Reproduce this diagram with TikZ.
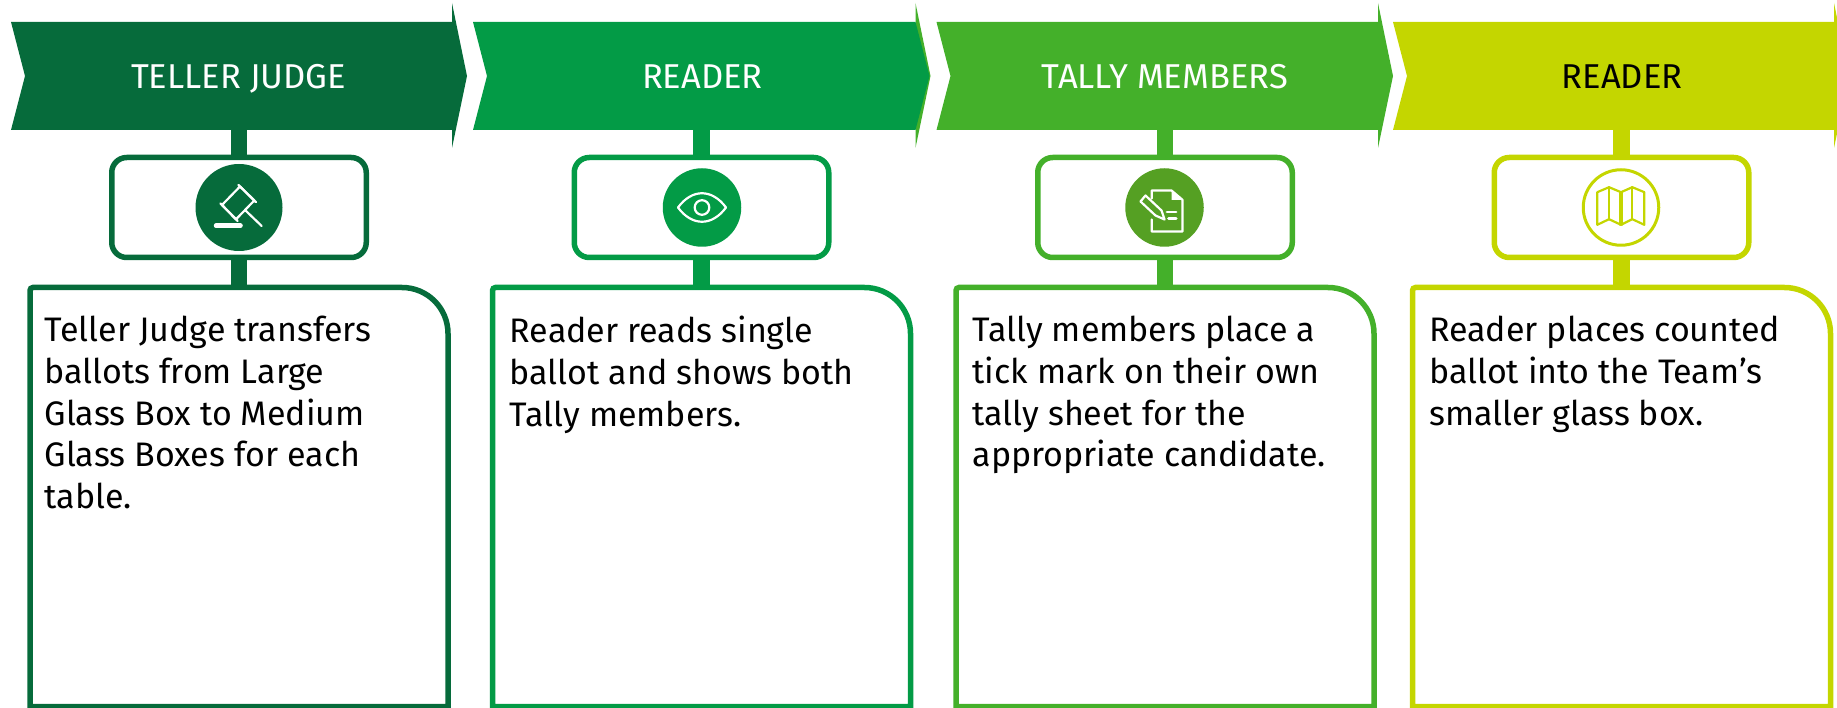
\documentclass[tikz,border=0pt]{standalone}
\usepackage{fontspec}
\setmainfont{Fira Sans}
\usetikzlibrary{calc}
\definecolor{tellergreen}{RGB}{6,107,59}
\definecolor{readergreen}{RGB}{3,155,70}
\definecolor{tallygreen}{RGB}{68,176,42}
\definecolor{tallydisc}{RGB}{85,160,35}
\definecolor{limegreen}{RGB}{196,214,0}
\tikzset{
  headtext/.style={font=\fontsize{34.5}{36}\selectfont, inner sep=0pt, anchor=base},
  stem/.style={line width=16.5pt},
  iconbox/.style={draw, line width=5.5pt, rounded corners=15pt, minimum width=254.5pt, minimum height=100pt, inner sep=0pt, outer sep=0pt},
  framebox/.style={minimum width=418pt, minimum height=419.2pt, inner sep=0pt, outer sep=0pt},
  frameline/.style={line width=5.5pt},
  bodytext/.style={font=\fontsize{34}{41.7}\selectfont, align=left, anchor=north west, inner sep=0pt},
  disc/.style={circle, minimum size=78.5pt, inner sep=0pt, outer sep=0pt},
  glyph/.style={draw=white, line width=2.2pt, line join=round, line cap=round}
}
% banner with its notch on the left and its wings on the right
\newcommand{\banner}[3]{%
  \fill[#3] (#1,22) -- (#1+14,76) -- (#1,130) -- (#2,130) -- (#2,148) -- (#2+15,76) -- (#2,3) -- (#2,22) -- cycle;
}
% outline of a text box: only the top right corner is really round
\newcommand{\bodyframe}[2]{%
  \draw[frameline,#2] (#1.south west) [rounded corners=3pt] -- (#1.north west) [rounded corners=46pt] -- (#1.north east) [sharp corners] -- (#1.south east) -- cycle;
}
\newcommand{\gavelglyph}[1]{%
  \begin{scope}[shift={(#1)},glyph]
    \draw (1,-21) -- (15.3,-7) -- (-3,11.8) -- (-17,-2.5) -- cycle;
    % the two faces of the head stick out a little
    \draw (-0.7,-22.7) -- (17,-5.3);
    \draw (-18.7,-4.2) -- (-1.3,13.5);
    \draw (6,2.5) -- (22.7,18.5);
    \draw[line width=4.5pt] (-23,18.2) -- (1.5,18.2);
  \end{scope}
}
\newcommand{\eyeglyph}[1]{%
  \begin{scope}[shift={(#1)},glyph]
    \draw (-24,0) .. controls (-10,-19) and (10,-19) .. (24,0) .. controls (10,19) and (-10,19) .. (-24,0) -- cycle;
    \draw (0,0) circle (7.3);
  \end{scope}
}
\newcommand{\sheetglyph}[1]{%
  \begin{scope}[shift={(#1)},glyph]
    \draw (-12.7,-9) -- (-12.7,-17) -- (7,-17) -- (18,-7.7) -- (18,24) -- (-12.7,24) -- (-12.7,12);
    \fill[white] (7,-17) -- (18,-7.7) -- (7,-7.7) -- cycle;
    \draw (-24,-6) -- (-19,-12) -- (-3,3) -- (0,12) -- (-9,8) -- cycle;
    \draw (2.3,4.7) -- (11.7,4.7);
    \draw[line width=3pt] (4,11.3) -- (11.7,11.3);
  \end{scope}
}
\newcommand{\mapglyph}[1]{%
  \begin{scope}[shift={(#1)},glyph,draw=limegreen]
    \draw (-23.7,-15.3) -- (-12,-20.3) -- (0,-15.3) -- (11.3,-20.3) -- (23.3,-15.3) -- (23.3,17.3) -- (11.3,11.7) -- (0,17.3) -- (-12,11.7) -- (-23.7,17.3) -- cycle;
    \draw (-12,-20.3) -- (-12,11.7);
    \draw (-1,-15.3) -- (-1,17.3);
    \draw (1,-15.3) -- (1,17.3);
    \draw (11.3,-20.3) -- (11.3,11.7);
  \end{scope}
}
\begin{document}
\begin{tikzpicture}[x=1pt,y=-1pt]
  \useasboundingbox (0,0) rectangle (1837,708);

  % --- banners ---
  \banner{11}{452}{tellergreen}
  \fill[tallygreen] (915.5,3) -- (930.5,76) -- (915.5,148) -- cycle;
  \fill[readergreen] (473,22) -- (487,76) -- (473,130) -- (915.5,130) -- (929.5,76) -- (915.5,22) -- cycle;
  \banner{936.5}{1378}{tallygreen}
  \banner{1393}{1834}{limegreen}
  \node[headtext,text=white] (headA) at (238.5,88.3) {TELLER JUDGE};
  \node[headtext,text=white] (headB) at (702.4,88.3) {READER};
  \node[headtext,text=white] (headC) at (1165,88.3) {TALLY MEMBERS};
  \node[headtext,text=black] (headD) at (1622,88.3) {READER};
  \coordinate (bannerA) at (239,130);
  \coordinate (bannerB) at (701.5,130);
  \coordinate (bannerC) at (1165,130);
  \coordinate (bannerD) at (1621.5,130);

  % --- icon boxes ---
  \node[iconbox,draw=tellergreen] (iconA) at (239,207.5) {};
  \node[iconbox,draw=readergreen] (iconB) at (701.5,207.5) {};
  \node[iconbox,draw=tallygreen] (iconC) at (1165,207.5) {};
  \node[iconbox,draw=limegreen] (iconD) at (1621.5,207.5) {};

  % --- text boxes ---
  \node[framebox] (bodyA) at (239,497.1) {};
  \node[framebox] (bodyB) at (701.5,497.1) {};
  \node[framebox] (bodyC) at (1165,497.1) {};
  \node[framebox] (bodyD) at (1621.5,497.1) {};
  \bodyframe{bodyA}{tellergreen}
  \bodyframe{bodyB}{readergreen}
  \bodyframe{bodyC}{tallygreen}
  \bodyframe{bodyD}{limegreen}

  % --- stems ---
  \draw[stem,tellergreen] (bannerA) -- (iconA);
  \draw[stem,tellergreen] (iconA) -- (bodyA);
  \draw[stem,readergreen] (bannerB) -- (iconB);
  \draw[stem,readergreen] (iconB) -- (bodyB);
  \draw[stem,tallygreen] (bannerC) -- (iconC);
  \draw[stem,tallygreen] (iconC) -- (bodyC);
  \draw[stem,limegreen] (bannerD) -- (iconD);
  \draw[stem,limegreen] (iconD) -- (bodyD);

  % --- discs and their glyphs ---
  \node[disc,fill=tellergreen,minimum size=87pt] (discA) at (239,207.5) {};
  \node[disc,fill=readergreen] (discB) at (702,207.5) {};
  \node[disc,fill=tallydisc] (discC) at (1164.5,207.5) {};
  \node[disc,draw=limegreen,line width=3pt,minimum size=75.5pt] (discD) at (1621,207.5) {};
  \gavelglyph{discA}
  \eyeglyph{discB}
  \sheetglyph{discC}
  \mapglyph{discD}

  % --- body text ---
  \node[bodytext] (textA) at (44.5,316) {Teller Judge transfers\\ballots from Large\\Glass Box to Medium\\Glass Boxes for each\\table.};
  \node[bodytext] (textB) at (509.6,316) {Reader reads single\\ballot and shows both\\Tally members.};
  \node[bodytext] (textC) at (972.4,316) {Tally members place a\\tick mark on their own\\tally sheet for the\\appropriate candidate.};
  \node[bodytext] (textD) at (1429,316) {Reader places counted\\ballot into the Team’s\\smaller glass box.};
\end{tikzpicture}
\end{document}
